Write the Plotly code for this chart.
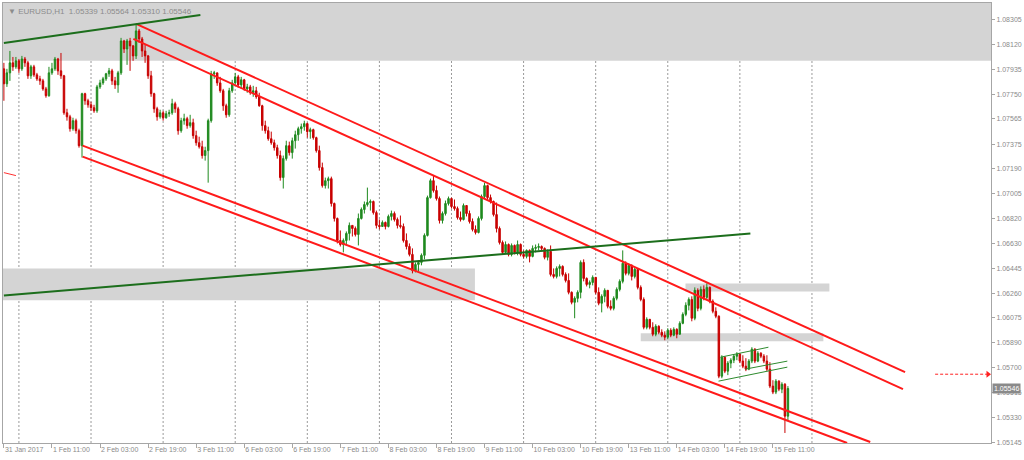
import plotly.graph_objects as go

# ---------------- data ----------------
first_open = 1.07939

closes = [
    1.07827, 1.07909, 1.07984, 1.07954, 1.07999, 1.07939, 1.08013, 1.07984, 1.07887, 1.07954,
    1.07894, 1.07864, 1.07849, 1.07789, 1.07738, 1.07909, 1.07939, 1.08013, 1.07924, 1.07887,
    1.07610, 1.07580, 1.07491, 1.07551, 1.07476, 1.07364, 1.07753, 1.07700, 1.07670, 1.07648,
    1.07625, 1.07804, 1.07834, 1.07864, 1.07902, 1.07924, 1.07849, 1.07819, 1.07909, 1.08148,
    1.08088, 1.08148, 1.08111, 1.08036, 1.08223, 1.08163, 1.08073, 1.08036, 1.07887, 1.07753,
    1.07640, 1.07580, 1.07610, 1.07573, 1.07603, 1.07610, 1.07678, 1.07640, 1.07476, 1.07551,
    1.07566, 1.07514, 1.07536, 1.07439, 1.07386, 1.07356, 1.07290, 1.07327, 1.07551, 1.07902,
    1.07909, 1.07834, 1.07775, 1.07663, 1.07595, 1.07775, 1.07834, 1.07879, 1.07819, 1.07857,
    1.07789, 1.07804, 1.07760, 1.07775, 1.07730, 1.07663, 1.07514, 1.07476, 1.07416, 1.07386,
    1.07349, 1.07290, 1.07125, 1.07267, 1.07364, 1.07312, 1.07401, 1.07446, 1.07491, 1.07506,
    1.07529, 1.07469, 1.07484, 1.07424, 1.07327, 1.07200, 1.07065, 1.07102, 1.07117, 1.06931,
    1.06819, 1.06654, 1.06624, 1.06654, 1.06707, 1.06767, 1.06744, 1.06699, 1.06819, 1.06886,
    1.06923, 1.06938, 1.06946, 1.06863, 1.06767, 1.06759, 1.06789, 1.06759, 1.06834, 1.06856,
    1.06811, 1.06767, 1.06759, 1.06654, 1.06609, 1.06550, 1.06430, 1.06475, 1.06490, 1.06543,
    1.06692, 1.06975, 1.07102, 1.07028, 1.06968, 1.06804, 1.06856, 1.06931, 1.06968, 1.06908,
    1.06893, 1.06826, 1.06811, 1.06916, 1.06856, 1.06796, 1.06737, 1.06714, 1.06819, 1.06983,
    1.07065, 1.06975, 1.06946, 1.06848, 1.06744, 1.06639, 1.06565, 1.06624, 1.06550, 1.06617,
    1.06565, 1.06624, 1.06550, 1.06535, 1.06580, 1.06535, 1.06595, 1.06602, 1.06609, 1.06595,
    1.06528, 1.06572, 1.06400, 1.06385, 1.06445, 1.06460, 1.06400, 1.06355, 1.06266, 1.06191,
    1.06221, 1.06266, 1.06490, 1.06370, 1.06325, 1.06340, 1.06378, 1.06266, 1.06184, 1.06236,
    1.06281, 1.06161, 1.06146, 1.06221, 1.06288, 1.06348, 1.06483, 1.06408, 1.06468, 1.06385,
    1.06438, 1.06303, 1.06213, 1.06004, 1.06064, 1.06004, 1.05952, 1.06012, 1.05967, 1.05945,
    1.05930, 1.05982, 1.05945, 1.05989, 1.05952, 1.06034, 1.06101, 1.06169, 1.06213, 1.06072,
    1.06281, 1.06146, 1.06288, 1.06228, 1.06303, 1.06199, 1.06124, 1.06087, 1.05638, 1.05780,
    1.05676, 1.05736, 1.05758, 1.05788, 1.05803, 1.05751, 1.05713, 1.05691, 1.05751, 1.05840,
    1.05751, 1.05810, 1.05788, 1.05751, 1.05691, 1.05564, 1.05519, 1.05601, 1.05541, 1.05578,
    1.05339, 1.05546,
]

highs = [
    1.07984, 1.07939, 1.08073, 1.08028, 1.08028, 1.08013, 1.08036, 1.08028, 1.07999, 1.07969,
    1.07969, 1.07909, 1.07887, 1.07864, 1.07804, 1.07954, 1.07984, 1.08028, 1.08021, 1.08058,
    1.07894, 1.07640, 1.07595, 1.07573, 1.07566, 1.07491, 1.07760, 1.07760, 1.07715, 1.07693,
    1.07670, 1.07819, 1.07857, 1.07879, 1.07909, 1.07946, 1.07939, 1.07879, 1.07924, 1.08171,
    1.08156, 1.08163, 1.08171, 1.08118, 1.08276, 1.08238, 1.08178, 1.08118, 1.08043, 1.07924,
    1.07760, 1.07655, 1.07633, 1.07625, 1.07625, 1.07633, 1.07715, 1.07693, 1.07655, 1.07573,
    1.07603, 1.07580, 1.07595, 1.07566, 1.07476, 1.07431, 1.07401, 1.07356, 1.07566, 1.07924,
    1.07924, 1.07909, 1.07879, 1.07789, 1.07678, 1.07797, 1.07857, 1.07909, 1.07894, 1.07879,
    1.07864, 1.07827, 1.07819, 1.07812, 1.07804, 1.07760, 1.07670, 1.07551, 1.07506, 1.07469,
    1.07409, 1.07371, 1.07327, 1.07290, 1.07401, 1.07394, 1.07424, 1.07476, 1.07506, 1.07529,
    1.07551, 1.07536, 1.07499, 1.07491, 1.07431, 1.07364, 1.07237, 1.07125, 1.07132, 1.07132,
    1.06938, 1.06826, 1.06729, 1.06669, 1.06722, 1.06789, 1.06767, 1.06759, 1.06856, 1.06901,
    1.06946, 1.07050, 1.06961, 1.06953, 1.06878, 1.06811, 1.06804, 1.06796, 1.06848, 1.06878,
    1.06871, 1.06826, 1.06841, 1.06781, 1.06707, 1.06632, 1.06595, 1.06490, 1.06505, 1.06557,
    1.06707, 1.06990, 1.07117, 1.07140, 1.07065, 1.06983, 1.06871, 1.06953, 1.06983, 1.06975,
    1.06961, 1.06908, 1.06871, 1.06931, 1.06908, 1.06878, 1.06819, 1.06767, 1.06834, 1.06998,
    1.07087, 1.07072, 1.06998, 1.06953, 1.06938, 1.06759, 1.06654, 1.06647, 1.06632, 1.06632,
    1.06624, 1.06654, 1.06632, 1.06580, 1.06587, 1.06587, 1.06617, 1.06624, 1.06632, 1.06617,
    1.06602, 1.06587, 1.06617, 1.06445, 1.06460, 1.06475, 1.06468, 1.06415, 1.06408, 1.06273,
    1.06236, 1.06281, 1.06505, 1.06513, 1.06378, 1.06355, 1.06393, 1.06355, 1.06303, 1.06251,
    1.06296, 1.06281, 1.06206, 1.06236, 1.06303, 1.06363, 1.06580, 1.06498, 1.06483, 1.06475,
    1.06453, 1.06445, 1.06318, 1.06228, 1.06079, 1.06064, 1.06042, 1.06027, 1.06019, 1.05989,
    1.05974, 1.05997, 1.05997, 1.06004, 1.05997, 1.06049, 1.06116, 1.06191, 1.06228, 1.06236,
    1.06303, 1.06296, 1.06310, 1.06318, 1.06333, 1.06310, 1.06213, 1.06154, 1.06094, 1.05795,
    1.05788, 1.05751, 1.05773, 1.05803, 1.05818, 1.05810, 1.05795, 1.05773, 1.05766, 1.05855,
    1.05848, 1.05825, 1.05818, 1.05803, 1.05795, 1.05743, 1.05608, 1.05616, 1.05608, 1.05593,
    1.05586, 1.05564,
]

lows = [
    1.07700, 1.07804, 1.07849, 1.07924, 1.07939, 1.07909, 1.07924, 1.07954, 1.07864, 1.07864,
    1.07879, 1.07849, 1.07819, 1.07775, 1.07723, 1.07730, 1.07894, 1.07924, 1.07894, 1.07864,
    1.07595, 1.07551, 1.07469, 1.07476, 1.07454, 1.07349, 1.07275, 1.07670, 1.07648, 1.07625,
    1.07610, 1.07610, 1.07789, 1.07819, 1.07849, 1.07879, 1.07819, 1.07789, 1.07760, 1.07894,
    1.08058, 1.07969, 1.07924, 1.07999, 1.08013, 1.08133, 1.08028, 1.07984, 1.07864, 1.07730,
    1.07610, 1.07551, 1.07566, 1.07551, 1.07566, 1.07580, 1.07595, 1.07610, 1.07446, 1.07461,
    1.07521, 1.07491, 1.07499, 1.07416, 1.07364, 1.07342, 1.07267, 1.07252, 1.07087, 1.07536,
    1.07864, 1.07812, 1.07760, 1.07625, 1.07573, 1.07580, 1.07760, 1.07819, 1.07797, 1.07789,
    1.07775, 1.07760, 1.07745, 1.07730, 1.07715, 1.07655, 1.07476, 1.07454, 1.07401, 1.07371,
    1.07327, 1.07267, 1.07102, 1.07043, 1.07252, 1.07290, 1.07267, 1.07342, 1.07401, 1.07454,
    1.07476, 1.07424, 1.07416, 1.07409, 1.07312, 1.07177, 1.07050, 1.07043, 1.07043, 1.06908,
    1.06796, 1.06632, 1.06609, 1.06565, 1.06617, 1.06654, 1.06684, 1.06684, 1.06617, 1.06811,
    1.06856, 1.06908, 1.06878, 1.06848, 1.06744, 1.06737, 1.06759, 1.06737, 1.06752, 1.06804,
    1.06796, 1.06744, 1.06744, 1.06639, 1.06587, 1.06535, 1.06408, 1.06415, 1.06423, 1.06468,
    1.06513, 1.06684, 1.06968, 1.07013, 1.06953, 1.06781, 1.06781, 1.06841, 1.06916, 1.06893,
    1.06878, 1.06811, 1.06796, 1.06804, 1.06834, 1.06781, 1.06722, 1.06699, 1.06707, 1.06804,
    1.06968, 1.06961, 1.06931, 1.06834, 1.06714, 1.06624, 1.06550, 1.06557, 1.06535, 1.06535,
    1.06550, 1.06543, 1.06535, 1.06520, 1.06520, 1.06490, 1.06528, 1.06565, 1.06580, 1.06580,
    1.06513, 1.06505, 1.06385, 1.06370, 1.06370, 1.06385, 1.06385, 1.06340, 1.06251, 1.06176,
    1.06072, 1.06191, 1.06221, 1.06348, 1.06310, 1.06296, 1.06318, 1.06251, 1.06169, 1.06116,
    1.06191, 1.06146, 1.06131, 1.06131, 1.06206, 1.06273, 1.06333, 1.06393, 1.06393, 1.06355,
    1.06370, 1.06288, 1.06199, 1.05989, 1.05989, 1.05989, 1.05937, 1.05937, 1.05952, 1.05930,
    1.05907, 1.05915, 1.05930, 1.05937, 1.05922, 1.05952, 1.06027, 1.06087, 1.06131, 1.06049,
    1.06057, 1.06124, 1.06131, 1.06206, 1.06213, 1.06184, 1.06109, 1.06072, 1.05623, 1.05623,
    1.05661, 1.05646, 1.05698, 1.05736, 1.05758, 1.05736, 1.05698, 1.05676, 1.05683, 1.05736,
    1.05736, 1.05743, 1.05773, 1.05736, 1.05676, 1.05549, 1.05504, 1.05504, 1.05526, 1.05511,
    1.05213, 1.05310,
]

opens = [first_open] + closes[:-1]
bar_index = list(range(len(closes)))

price_ticks = [1.08305, 1.08120, 1.07935, 1.07750, 1.07565, 1.07375, 1.07190, 1.07005,
               1.06820, 1.06630, 1.06445, 1.06260, 1.06075, 1.05890, 1.05700, 1.05515,
               1.05330, 1.05145]

time_tick_bars = [0, 16, 32, 48, 64, 80, 96, 112, 128, 144, 160, 176, 192, 208, 224, 240, 256]
time_tick_text = ["31 Jan 2017", "1 Feb 11:00", "2 Feb 03:00", "2 Feb 19:00", "3 Feb 11:00",
                  "6 Feb 03:00", "6 Feb 19:00", "7 Feb 11:00", "8 Feb 03:00", "8 Feb 19:00",
                  "9 Feb 11:00", "10 Feb 03:00", "10 Feb 19:00", "13 Feb 11:00",
                  "14 Feb 03:00", "14 Feb 19:00", "15 Feb 11:00"]

day_start_bars = [5, 29, 53, 77, 101, 125, 149, 173, 197, 221, 245, 269]

# support / resistance zones (bar index and price bounds)
zone_x0 = [-1, -1, 226.9, 212.0]
zone_x1 = [330, 156.8, 274.8, 272.8]
zone_p0 = [1.07999, 1.06206, 1.06273, 1.05900]
zone_p1 = [1.08500, 1.06445, 1.06333, 1.05960]

# red channel lines
red_x0 = [44.0, 43.1, 26.2, 26.2]
red_p0 = [1.08276, 1.08163, 1.07364, 1.07282]
red_x1 = [300.0, 299.3, 288.4, 280.7]
red_p1 = [1.05668, 1.05541, 1.05145, 1.05138]

# green trend lines
green_x0 = [0.0, 0.0]
green_p0 = [1.08133, 1.06243]
green_x1 = [65.4, 248.5]
green_p1 = [1.08342, 1.06706]

# small green flag channel
flag_x0 = [238.5, 237.9, 246.8]
flag_p0 = [1.05780, 1.05601, 1.05691]
flag_x1 = [254.5, 260.8, 260.8]
flag_p1 = [1.05855, 1.05706, 1.05751]

# short red segment at left and price arrow at right
seg_x = [0.0, 4.0]
seg_p = [1.07162, 1.07140]
arrow_x = [310.0, 327.6]
arrow_p = [1.05653, 1.05653]

header = "EURUSD,H1  1.05339 1.05564 1.05310 1.05546"
last_price = 1.05546

# ---------------- figure ----------------
GREEN = "#1f8a1f"
RED = "#c80000"
AXIS_GRAY = "#a6a6a6"
TXT_GRAY = "#8a8a8a"
FONT = "Liberation Sans"

fig = go.Figure()

fig.add_trace(go.Candlestick(
    x=bar_index, open=opens, high=highs, low=lows, close=closes,
    increasing=dict(line=dict(color=GREEN, width=1), fillcolor=GREEN),
    decreasing=dict(line=dict(color=RED, width=1), fillcolor=RED),
    whiskerwidth=0, hoverinfo="skip", showlegend=False,
))

# zones
for x0, x1, p0, p1 in zip(zone_x0, zone_x1, zone_p0, zone_p1):
    fig.add_shape(type="rect", xref="x", yref="y", x0=x0, x1=x1, y0=p0, y1=p1,
                  fillcolor="#d4d4d4", line=dict(width=0), layer="below")

# day separators
for b in day_start_bars:
    fig.add_shape(type="line", xref="x", yref="paper", x0=b, x1=b, y0=0, y1=1,
                  line=dict(color="#9a9a9a", width=1, dash="2px,2px"), layer="below")

# red channel
for x0, p0, x1, p1 in zip(red_x0, red_p0, red_x1, red_p1):
    fig.add_shape(type="line", xref="x", yref="y", x0=x0, y0=p0, x1=x1, y1=p1,
                  line=dict(color="#ff1a1a", width=2))

# green trend lines
for x0, p0, x1, p1 in zip(green_x0, green_p0, green_x1, green_p1):
    fig.add_shape(type="line", xref="x", yref="y", x0=x0, y0=p0, x1=x1, y1=p1,
                  line=dict(color="#1c6e1c", width=2))

# flag channel
for x0, p0, x1, p1 in zip(flag_x0, flag_p0, flag_x1, flag_p1):
    fig.add_shape(type="line", xref="x", yref="y", x0=x0, y0=p0, x1=x1, y1=p1,
                  line=dict(color="#2e8b2e", width=1))

fig.add_trace(go.Scatter(x=seg_x, y=seg_p, mode="lines",
                         line=dict(color="#ff3030", width=1),
                         hoverinfo="skip", showlegend=False))

fig.add_trace(go.Scatter(x=arrow_x, y=arrow_p, mode="lines",
                         line=dict(color="#ff2020", width=1, dash="3px,2px"),
                         hoverinfo="skip", showlegend=False, cliponaxis=False))
fig.add_trace(go.Scatter(x=[arrow_x[-1]], y=[arrow_p[-1]], mode="markers",
                         marker=dict(symbol="triangle-right", size=6, color="#ff2020"),
                         hoverinfo="skip", showlegend=False, cliponaxis=False))

# header and last-price label
fig.add_annotation(xref="paper", yref="paper", x=0, y=1, xanchor="left", yanchor="top",
                   xshift=3, yshift=-2, showarrow=False,
                   text="▼ " + header,
                   font=dict(family=FONT, size=8, color="#8c8c8c"))
fig.add_annotation(xref="paper", yref="y", x=1, y=last_price, xanchor="left",
                   yanchor="middle", xshift=1, showarrow=False,
                   text=f"{last_price:.5f}", bgcolor="#8a8a8a", borderpad=1,
                   font=dict(family=FONT, size=7, color="white"))

fig.update_layout(
    width=1024, height=460,
    margin=dict(l=2, r=32, t=2, b=17),
    paper_bgcolor="white", plot_bgcolor="white",
    showlegend=False,
    font=dict(family=FONT, size=7, color=TXT_GRAY),
)
fig.update_xaxes(
    range=[-0.3, 328.6], rangeslider=dict(visible=False),
    showgrid=False, zeroline=False,
    showline=True, linecolor=AXIS_GRAY, linewidth=1, mirror=True,
    tickmode="array", tickvals=time_tick_bars, ticktext=time_tick_text,
    ticks="outside", ticklen=4, tickcolor=AXIS_GRAY, tickangle=0,
    ticklabelposition="outside right",
    tickfont=dict(family=FONT, size=7, color=TXT_GRAY),
)
fig.update_yaxes(
    range=[1.05138, 1.08432], side="right",
    showgrid=False, zeroline=False,
    showline=True, linecolor=AXIS_GRAY, linewidth=1, mirror=True,
    tickmode="array", tickvals=price_ticks,
    ticktext=[f"{v:.5f}" for v in price_ticks],
    ticks="outside", ticklen=3, tickcolor=AXIS_GRAY,
    tickfont=dict(family=FONT, size=7, color=TXT_GRAY),
)

fig.write_html(
    "out.html",
    config={"displayModeBar": False},
    post_script="document.body.style.margin='0';document.body.style.overflow='hidden';",
)
